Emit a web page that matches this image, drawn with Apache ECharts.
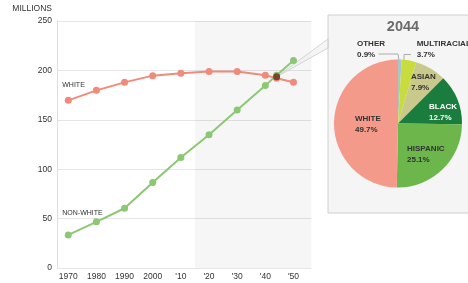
<!DOCTYPE html>
<html>
<head>
<meta charset="utf-8">
<script src="https://cdn.jsdelivr.net/npm/echarts@6/dist/echarts.min.js"></script>
<style>
  html, body { margin: 0; padding: 0; background: #fff; }
  #chart { width: 468px; height: 283px; }
</style>
</head>
<body>
<div id="chart"></div>
<script>
// population by group, millions
const years = [1970, 1980, 1990, 2000, 2010, 2020, 2030, 2040, 2044, 2050];
const whitePop = [169.7, 179.8, 187.9, 194.7, 197, 199, 199, 195.2, 192, 188];
const nonWhitePop = [33.5, 46.7, 60.5, 86.5, 111.9, 134.9, 159.9, 184.6, 195.2, 210];

const tickYears = [1970, 1980, 1990, 2000, 2010, 2020, 2030, 2040, 2050];
const tickLabels = ['1970', '1980', '1990', '2000', "'10", "'20", "'30", "'40", "'50"];

const crossYear = 2044;
const crossValue = 193.5;
const projectionStart = 2015;

// 2044 share of population
const pieNames = ['OTHER', 'MULTIRACIAL', 'ASIAN', 'BLACK', 'HISPANIC', 'WHITE'];
const pieShares = [0.9, 3.7, 7.9, 12.7, 25.1, 49.7];
const pieColors = ['#a6c6c8', '#c8dc3e', '#c9c98b', '#1b7d3d', '#6cb64c', '#f49a8b'];

const FONT = 'Liberation Sans, Arial, sans-serif';
const pieCenter = [398, 123.5];
const pieRadius = 64;

// label spots relative to pie center (left edge, middle)
const labelSpots = {
    OTHER: [-41, -74.5], MULTIRACIAL: [18.7, -74.5], ASIAN: [13, -41.5],
    BLACK: [31, -11.5], HISPANIC: [9, 31], WHITE: [-43, 1]
};
const leaderPts = {
    OTHER: [[-19.5, -69.5], [0, -69.5], [1, -63]],
    MULTIRACIAL: [[13, -69], [6, -69], [6, -63]]
};

const chart = echarts.init(document.getElementById('chart'));

function lineData(vals, name, offY) {
    return years.map((y, i) => {
        const d = { value: [y, vals[i]] };
        if (i === 0) {
            d.label = {
                show: true, position: 'top', align: 'left', offset: [-6, offY],
                formatter: name, fontSize: 7, color: '#333', fontFamily: FONT
            };
        }
        return d;
    });
}

chart.setOption({
    animation: false,
    textStyle: { fontFamily: FONT },
    title: {
        text: '2044', left: 403, top: 19, textAlign: 'center', padding: 0,
        textStyle: { fontSize: 14.5, fontWeight: 'bold', color: '#6b6b6b', fontFamily: FONT }
    },
    grid: { left: 57, right: 156.5, top: 21, bottom: 15 },
    xAxis: {
        type: 'value', min: 1966, max: 2056.4,
        axisLine: { show: false }, axisTick: { show: false }, splitLine: { show: false },
        axisLabel: {
            customValues: tickYears, margin: 4, fontSize: 8.5, color: '#333',
            formatter: v => tickLabels[tickYears.indexOf(v)] || ''
        }
    },
    yAxis: {
        type: 'value', min: 0, max: 250, interval: 50,
        name: 'MILLIONS', nameLocation: 'end', nameGap: 8,
        nameTextStyle: { align: 'right', padding: [0, 5, 0, 0], fontSize: 8.5, color: '#333' },
        axisLine: { show: true, lineStyle: { color: '#dddddd' } },
        axisTick: { show: false },
        axisLabel: { margin: 5, fontSize: 8.5, color: '#333' },
        splitLine: { lineStyle: { color: '#e6e6e6' } }
    },
    series: [
        {
            type: 'line', name: 'WHITE', data: lineData(whitePop, 'WHITE', -3),
            symbol: 'circle', symbolSize: 7, color: '#f08a7a',
            lineStyle: { width: 2 },
            markArea: {
                silent: true, itemStyle: { color: 'rgba(0,0,0,0.035)' },
                data: [[{ xAxis: projectionStart }, { xAxis: 2056.4 }]]
            }
        },
        {
            type: 'line', name: 'NON-WHITE', data: lineData(nonWhitePop, 'NON-WHITE', -10),
            symbol: 'circle', symbolSize: 7, color: '#8cc873',
            lineStyle: { width: 2 }
        },
        {
            type: 'scatter', data: [[crossYear, crossValue]],
            symbolSize: 7, itemStyle: { color: '#6a2a1c' }, z: 5
        },
        {
            type: 'pie', center: pieCenter, radius: pieRadius,
            startAngle: 90, clockwise: true, z: 3, avoidLabelOverlap: false,
            data: pieNames.map((n, i) => ({
                name: n, value: pieShares[i],
                itemStyle: { color: pieColors[i] },
                label: {
                    position: leaderPts[n] ? 'outside' : 'inside',
                    color: n === 'BLACK' ? '#fff' : '#333'
                },
                labelLine: { show: !!leaderPts[n], lineStyle: { color: '#999', width: 0.8 } }
            })),
            label: {
                show: true, fontSize: 8, fontWeight: 'bold', lineHeight: 11,
                fontFamily: FONT, align: 'left', overflow: 'none',
                formatter: p => p.name + '\n' + p.value.toFixed(1) + '%'
            },
            labelLine: { length: 5, length2: 5 },
            labelLayout: p => {
                const n = pieNames[p.dataIndex];
                const s = labelSpots[n];
                const out = { x: pieCenter[0] + s[0], y: pieCenter[1] + s[1], align: 'left', verticalAlign: 'middle' };
                if (leaderPts[n]) {
                    out.labelLinePoints = leaderPts[n].map(q => [pieCenter[0] + q[0], pieCenter[1] + q[1]]);
                }
                return out;
            },
            emphasis: { disabled: true }
        }
    ]
});

// callout box and pointer from the crossing point
const pt = chart.convertToPixel({ xAxisIndex: 0, yAxisIndex: 0 }, [crossYear, crossValue]);
chart.setOption({
    graphic: [
        {
            type: 'rect', z: -1, shape: { x: 328, y: 15, width: 160, height: 198 },
            style: { fill: '#f5f5f5', stroke: '#cfcfcf', lineWidth: 1 }
        },
        {
            type: 'polygon', z: 1, shape: { points: [pt, [328, 39], [328, 48]] },
            style: { fill: 'rgba(235,235,235,0.5)', stroke: '#cccccc', lineWidth: 0.8 }
        }
    ]
});
</script>
</body>
</html>
